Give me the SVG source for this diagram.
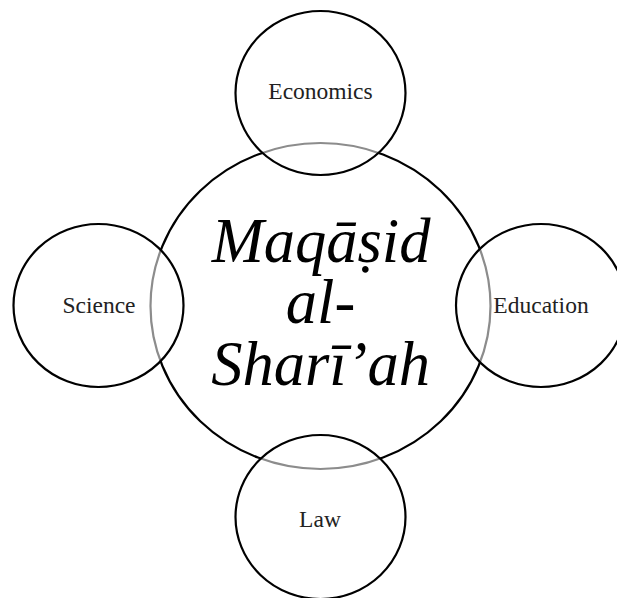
<svg xmlns="http://www.w3.org/2000/svg" width="617" height="598" viewBox="0 0 617 598">
<style>
.c{stroke:#000;stroke-width:2.2}
.big{fill:#fff}
.small{fill:#fff;fill-opacity:0.55}
.lbl{font-family:"Liberation Serif",serif;font-size:23.5px;fill:#222;text-anchor:middle}
.main{font-family:"Liberation Serif",serif;font-style:italic;font-size:62.5px;fill:#000;text-anchor:middle}
</style>
<rect width="617" height="598" fill="#fff"/>
<g id="center">
<ellipse class="c big" cx="320.5" cy="306" rx="170" ry="163"/>
<text class="main" x="321" y="262">Maqāṣid</text>
<text class="main" x="320.5" y="323">al-</text>
<text class="main" x="320.5" y="385">Sharī’ah</text>
</g>
<g id="economics">
<ellipse class="c small" cx="320.5" cy="93" rx="85" ry="82"/>
<text class="lbl" x="320.5" y="99">Economics</text>
</g>
<g id="science">
<ellipse class="c small" cx="98.5" cy="305.5" rx="85" ry="81.5"/>
<text class="lbl" x="99" y="313">Science</text>
</g>
<g id="education">
<ellipse class="c small" cx="541" cy="305.5" rx="85" ry="81.5"/>
<text class="lbl" x="541" y="313">Education</text>
</g>
<g id="law">
<ellipse class="c small" cx="320.5" cy="517" rx="85" ry="82"/>
<text class="lbl" x="320" y="527">Law</text>
</g>
<g id="connectors"></g>
</svg>
